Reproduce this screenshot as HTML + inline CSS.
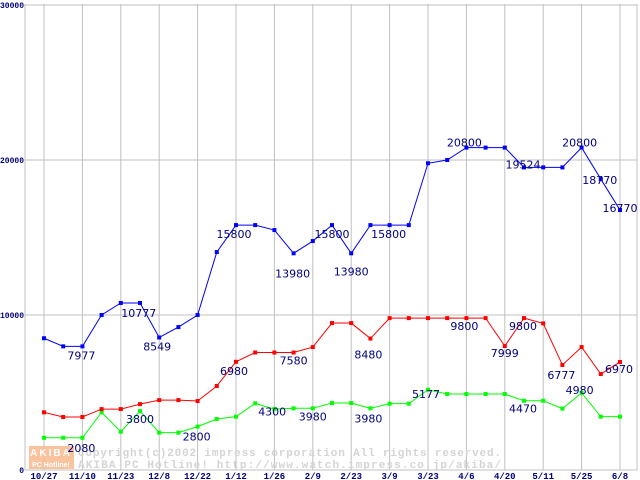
<!DOCTYPE html>
<html><head><meta charset="utf-8"><style>
html,body{margin:0;padding:0;background:#fff;}
svg{display:block;}
</style></head><body>
<svg id="chart" width="640" height="480" xmlns="http://www.w3.org/2000/svg">
<g id="grid"></g>
<g id="wm">
  <rect x="29" y="446" width="45" height="23" fill="#f7b98c" opacity="0.85"/>
  <text x="51" y="456" font-family="Liberation Sans, sans-serif" font-size="10" font-weight="bold" fill="#fff" text-anchor="middle" letter-spacing="2">AKIBA</text>
  <text x="51" y="467" font-family="Liberation Sans, sans-serif" font-size="7" font-weight="bold" fill="#fff" text-anchor="middle">PC Hotline!</text>
  <text x="78" y="456" font-family="Liberation Mono, monospace" font-size="11" font-weight="bold" fill="#d4d4d4" textLength="423">Copyright(c)2002 impress corporation All rights reserved.</text>
  <text x="78" y="468" font-family="Liberation Mono, monospace" font-size="11" font-weight="bold" fill="#d4d4d4" textLength="423">AKIBA PC Hotline!  http://www.watch.impress.co.jp/akiba/</text>
</g>
<g id="series"></g>
<g id="labels"></g>
</svg>
<script>
const xLabels = ["10/27","11/10","11/23","12/8","12/22","1/12","1/26","2/9","2/23","3/9","3/23","4/6","4/20","5/11","5/25","6/8"];
const yTicks = [0,10000,20000,30000];
const blueValues = [8500,7977,7977,10000,10777,10777,8549,9220,10000,14060,15800,15800,15480,13980,14770,15800,13980,15800,15800,15800,19790,20000,20800,20800,20800,19524,19524,19524,20800,18770,16770];
const redValues = [3720,3420,3420,3930,3930,4250,4510,4510,4450,5420,6980,7580,7580,7580,7930,9480,9480,8480,9800,9800,9800,9800,9800,9800,7999,9800,9460,6777,7930,6190,6970];
const greenValues = [2080,2080,2080,3720,2470,3800,2410,2410,2800,3290,3440,4300,3930,3980,3980,4320,4320,3980,4280,4280,5177,4900,4900,4900,4900,4470,4470,3960,4980,3440,3440];
const blueLabelIdx = [2,4,6,10,13,15,16,18,22,25,28,29,30];
const blueLabelDx = [-1,18,-2,-2,-1,0,0,-1,-2,-1,-2,-1,0];
const blueLabelDy = [13,14,13,13,24,13,22,13,-1,1,-1,5,2];
const redLabelIdx = [10,13,17,22,24,25,27,30];
const redLabelDx = [-2,0,-2,-2,0,-1,-1,-1];
const redLabelDy = [13,12,20,12,11,12,14,11];
const greenLabelIdx = [2,5,8,11,14,17,20,25,28];
const greenLabelDx = [-1,0,-1,17,0,-2,-2,-1,-2];
const greenLabelDy = [14,12,14,12,12,14,8,12,1];

const X0=44, DX=19.2, Y0=470, YS=15.5/1000;
const xs = i => X0 + i*DX;
const ys = v => Y0 - v*YS;
const NS="http://www.w3.org/2000/svg";
function mk(tag, attrs, parent){const e=document.createElementNS(NS,tag);for(const k in attrs)e.setAttribute(k,attrs[k]);parent.appendChild(e);return e;}
const grid=document.getElementById('grid');
yTicks.forEach(t=>{
  const l=mk('line',{x1:25,x2:637,y1:ys(t),y2:ys(t),stroke:'#c0c0c0','stroke-width':1},grid);
  
  
  const s=String(t);
  const tx=mk('text',{x:24,y:ys(t)+3,'text-anchor':'end','font-family':'Liberation Mono, monospace','font-size':8,'font-weight':'bold',fill:'#000080',textLength:s.length*4.8,lengthAdjust:'spacingAndGlyphs'},grid);
  tx.textContent=s;
  
  
});
mk('line',{x1:25,x2:25,y1:4,y2:470,stroke:'#c0c0c0'},grid);
mk('line',{x1:637,x2:637,y1:4,y2:470,stroke:'#c0c0c0'},grid);
xLabels.forEach((s,i)=>{
  const x=xs(i*2);
  const l=mk('line',{x1:x,x2:x,y1:4,y2:470,stroke:'#c0c0c0'},grid);
  
  
  const tx=mk('text',{x:x,y:479,'text-anchor':'middle','font-family':'Liberation Mono, monospace','font-size':9,'font-weight':'bold',fill:'#000080'},grid);
  tx.textContent=s;
  
  
});
const sg=document.getElementById('series');
const lg=document.getElementById('labels');
function drawSeries(vals,color,name,lIdx,lDx,lDy){
  const g=mk('g',{},sg);
  
  
  const pl=mk('polyline',{points:vals.map((v,i)=>xs(i)+','+ys(v)).join(' '),fill:'none',stroke:color,'stroke-width':1},g);
  
  
  vals.forEach((v,i)=>{
    const r=mk('rect',{x:xs(i)-2,y:ys(v)-2,width:4,height:4,fill:color},g);
    
    
  });
  lIdx.forEach((idx,k)=>{
    const t=mk('text',{x:xs(idx)+lDx[k],y:ys(vals[idx])+lDy[k],'text-anchor':'middle','font-family':'DejaVu Sans, sans-serif','font-size':11,fill:'#000080'},lg);
    t.textContent=vals[idx];
    
    
  });
}
drawSeries(greenValues,'#00ff00','green',greenLabelIdx,greenLabelDx,greenLabelDy);
drawSeries(redValues,'#ff0000','red',redLabelIdx,redLabelDx,redLabelDy);
drawSeries(blueValues,'#0000ff','blue',blueLabelIdx,blueLabelDx,blueLabelDy);
</script>
</body></html>
